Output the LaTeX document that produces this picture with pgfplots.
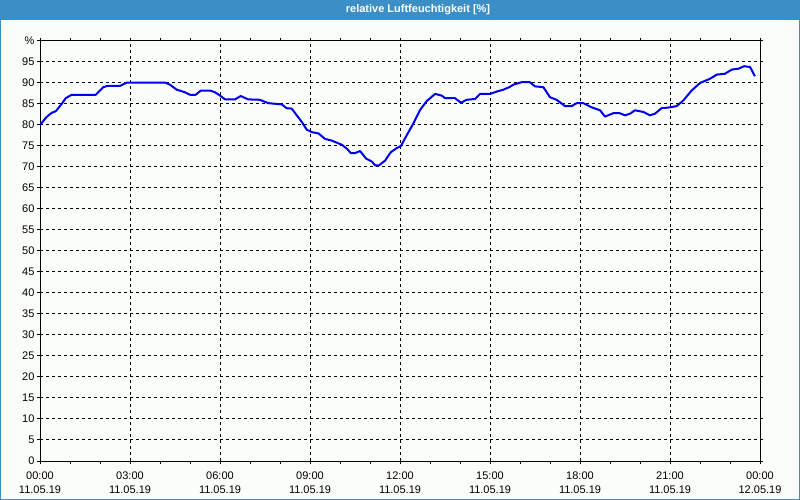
\documentclass[border=0pt]{standalone}
\usepackage{pgfplots}
\pgfplotsset{compat=1.18}
\usepackage{fontspec}
\setmainfont{Liberation Sans}
\definecolor{bgc}{HTML}{FBFDFB}
\definecolor{barc}{HTML}{3C8FC6}
\definecolor{linec}{HTML}{0000F0}
\begin{document}
\begin{tikzpicture}
\fill[bgc] (0bp,0bp) rectangle (800bp,500bp);
\fill[barc] (0bp,480bp) rectangle (800bp,500bp);
\draw[barc,line width=2bp] (0bp,0bp) rectangle (800bp,500bp);
\node[text=white,font=\fontsize{11bp}{13bp}\selectfont\bfseries] at (418bp,490bp) {relative Luftfeuchtigkeit [\%]};
\begin{axis}[
  at={(40bp,39bp)}, anchor=south west,
  scale only axis, width=720bp, height=420bp,
  xmin=0, xmax=24, ymin=0, ymax=100,
  axis line style={black, line width=1bp},
  xtick={0,3,...,24},
  minor xtick={0,1,...,24},
  xticklabels={{00:00\\11.05.19},{03:00\\11.05.19},{06:00\\11.05.19},{09:00\\11.05.19},{12:00\\11.05.19},{15:00\\11.05.19},{18:00\\11.05.19},{21:00\\11.05.19},{00:00\\12.05.19}},
  xticklabel style={align=center, font=\fontsize{11bp}{14bp}\selectfont, yshift=-4bp},
  ytick={0,5,...,100},
  yticklabels={0,5,10,15,20,25,30,35,40,45,50,55,60,65,70,75,80,85,90,95,\raisebox{-4bp}{\%}},
  yticklabel style={font=\fontsize{11bp}{13bp}\selectfont, xshift=1bp},
  tick align=outside,
  major tick length=3bp, minor tick length=3bp,
  tick style={black, line width=1bp},
  xmajorgrids, ymajorgrids,
  major grid style={black, line width=1bp, dash pattern=on 3bp off 3bp},
]
\addplot[linec, line width=2bp, line join=round] coordinates {
(0.0,80) (0.22,81.9) (0.39,82.9) (0.53,83.3) (0.72,85) (0.86,86.4) (1.06,87.2) (1.86,87.2)
(2.11,89) (2.24,89.3) (2.67,89.3) (2.89,90.1) (4.17,90.1) (4.33,89.6) (4.56,88.4) (4.83,87.8)
(5.0,87.2) (5.19,87.2) (5.36,88.2) (5.67,88.2) (5.83,87.8) (6.0,87) (6.17,86.1) (6.5,86.1)
(6.69,86.9) (6.94,86.1) (7.33,86) (7.61,85.2) (8.06,84.9) (8.22,84) (8.39,83.9) (8.56,82.3)
(8.72,80.8) (8.89,78.9) (9.06,78.3) (9.28,78) (9.5,76.7) (9.72,76.3) (10.06,75.3) (10.24,74.3)
(10.36,73.3) (10.5,73.3) (10.67,73.8) (10.87,72) (11.06,71.3) (11.17,70.4) (11.3,70.4) (11.5,71.5)
(11.69,73.5) (11.89,74.5) (12.03,75) (12.22,77.5) (12.44,80.3) (12.67,83.6) (12.89,85.7) (13.17,87.4)
(13.39,87) (13.5,86.4) (13.83,86.4) (14.03,85.3) (14.22,86) (14.5,86.2) (14.67,87.4) (15.0,87.4)
(15.24,88) (15.44,88.4) (15.64,89) (15.78,89.6) (16.06,90.2) (16.33,90.2) (16.5,89.2) (16.78,89)
(17.0,86.6) (17.22,86) (17.5,84.5) (17.72,84.5) (17.89,85.2) (18.11,85.2) (18.39,84.2) (18.67,83.5)
(18.83,82) (19.11,82.8) (19.33,82.8) (19.5,82.3) (19.67,82.7) (19.83,83.5) (20.11,83.1) (20.33,82.3)
(20.5,82.7) (20.72,84) (21.0,84.2) (21.22,84.5) (21.44,85.8) (21.72,88.2) (22.0,90) (22.33,91)
(22.56,92) (22.83,92.2) (23.06,93.2) (23.28,93.4) (23.47,94) (23.67,93.8) (23.83,91.6)
};
\end{axis}
\pgfresetboundingbox
\useasboundingbox (0bp,0bp) rectangle (800bp,500bp);
\end{tikzpicture}
\end{document}
